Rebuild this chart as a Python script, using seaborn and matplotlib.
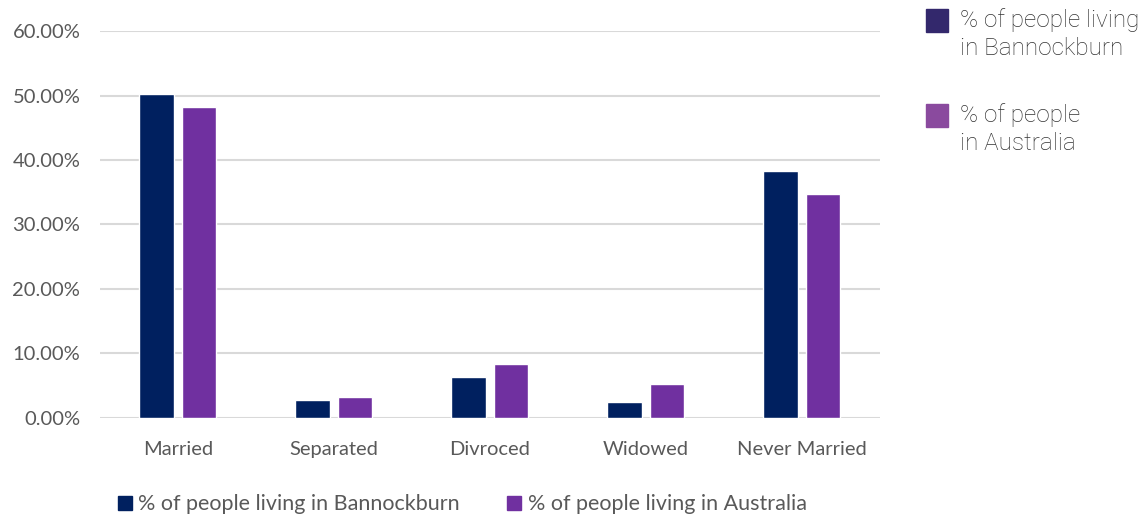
import numpy as np
import pandas as pd
import seaborn as sns
import matplotlib.pyplot as plt
from matplotlib.patches import Patch, Rectangle
from matplotlib.ticker import PercentFormatter

# marital status share (%)
categories = ['Married', 'Separated', 'Divroced', 'Widowed', 'Never Married']
bannockburn = [50.2, 2.8, 6.3, 2.4, 38.3]
australia = [48.2, 3.15, 8.3, 5.2, 34.8]
series_names = ['% of people living in Bannockburn', '% of people living in Australia']
side_labels = ['% of people living\nin Bannockburn', '% of people\nin Australia']

df = pd.DataFrame({'status': categories * 2,
                   'share': bannockburn + australia,
                   'series': [series_names[0]] * 5 + [series_names[1]] * 5})

sns.set_theme(style='white')
plt.rcParams['font.family'] = ['Lato', 'DejaVu Sans']

fig = plt.figure(figsize=(11.47, 5.19), dpi=100)
ax = fig.add_axes([0.087, 0.195, 0.68, 0.745])

bar_colors = ['#00205f', '#7030a0']
sns.barplot(data=df, x='status', y='share', hue='series', order=categories,
            hue_order=series_names, palette=bar_colors, width=0.54, gap=0.18,
            saturation=1, legend=False, ax=ax)

ax.set_ylim(0, 60)
ax.set_yticks(np.arange(0, 61, 10))
ax.yaxis.set_major_formatter(PercentFormatter(decimals=2))
ax.grid(axis='y', color='#d9d9d9', linewidth=1.5)
ax.set_axisbelow(True)
for s in ax.spines.values():
    s.set_visible(False)
ax.set_xlabel('')
ax.set_ylabel('')
ax.tick_params(axis='both', length=0, labelsize=14.5, labelcolor='#595959')
ax.tick_params(axis='x', pad=17)
ax.tick_params(axis='y', pad=14)

# bottom legend
bottom_handles = [Patch(color=c) for c in bar_colors]
fig.legend(bottom_handles, series_names, loc='center left', bbox_to_anchor=(0.086, 0.028),
           ncol=2, frameon=False, fontsize=15.5, labelcolor='#595959',
           handlelength=0.65, handleheight=0.65, handletextpad=0.3, columnspacing=2.2)

# side legend, drawn as figure-level boxes and text
side_colors = ['#33286c', '#8a4a9e']
W, H = 1147, 519
for i, (c, lab) in enumerate(zip(side_colors, side_labels)):
    top = 9 + i * 95
    fig.patches.append(Rectangle((926 / W, 1 - (top + 23) / H), 22 / W, 23 / H,
                                 transform=fig.transFigure, color=c))
    fig.text(960 / W, 1 - (top - 1) / H, lab, ha='left', va='top',
             family=['Roboto', 'DejaVu Sans'], fontweight='light', fontsize=17.5,
             color='#333333', linespacing=1.3)

fig.savefig('out.png', dpi=100)
